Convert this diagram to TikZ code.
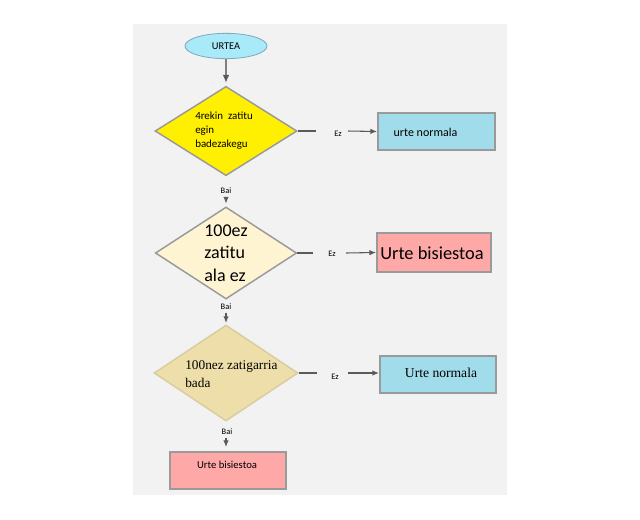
\documentclass[tikz,border=0pt]{standalone}
\usepackage{fontspec}
\setmainfont{Carlito}
\newfontfamily\serifx{Liberation Serif}
\usetikzlibrary{shapes.geometric,arrows.meta}
\definecolor{bg}{HTML}{F2F2F2}
\definecolor{ellfill}{HTML}{A8EAF8}
\definecolor{ellline}{HTML}{7EA9BE}
\definecolor{yel}{HTML}{FFEF00}
\definecolor{cream}{HTML}{FFF4D2}
\definecolor{khaki}{HTML}{EEDFAA}
\definecolor{bluebox}{HTML}{A0DCEA}
\definecolor{pinkbox}{HTML}{FFA8A8}
\definecolor{edge}{HTML}{9A9A9A}
\definecolor{conn}{HTML}{5A5A5A}
\begin{document}
\begin{tikzpicture}[x=0.75pt,y=-0.75pt,
  dia/.style={diamond,draw=edge,line width=1.1pt,inner sep=0pt},
  box/.style={rectangle,draw=edge,line width=1.4pt,inner sep=0pt},
  lbl/.style={font=\fontsize{6.3}{7}\selectfont,inner sep=1pt,fill=bg},
  conline/.style={draw=conn,line width=0.8pt},
  arr/.style={conline,-{Latex[length=5pt,width=4pt]}},
]
\useasboundingbox (0,0) rectangle (640,519);
\fill[bg] (133,24) rectangle (507,495);

% start
\node[ellipse,draw=ellline,fill=ellfill,line width=0.6pt,minimum width=61.5pt,minimum height=19pt,inner sep=0pt,font=\fontsize{7.8}{9}\selectfont] (start) at (226,46) {URTEA};

% diamonds
\node[dia,fill=yel,minimum width=106.5pt,minimum height=67pt] (d1) at (226,131) {};
\node[anchor=west,align=left,inner sep=0pt,font=\fontsize{8.2}{10.5}\selectfont] (t1) at (195,131) {4rekin\ \ zatitu\\egin\\badezakegu};

\node[dia,fill=cream,minimum width=106pt,minimum height=69pt] (d2) at (226,253) {};
\node[align=left,inner sep=0pt,font=\fontsize{13.5}{17}\selectfont] (t2) at (226,253) {100ez\\zatitu\\ala ez};

\node[dia,fill=khaki,draw=khaki!80!gray,minimum width=108pt,minimum height=72pt] (d3) at (226,373) {};
\node[anchor=west,align=left,inner sep=0pt,font=\serifx\fontsize{10}{13.5}\selectfont] (t3) at (185,374) {100nez zatigarria\\bada};

% boxes
\node[box,fill=bluebox,minimum width=87.75pt,minimum height=27.75pt] (b1) at (436.5,131.5) {};
\node[font=\fontsize{9}{11}\selectfont,inner sep=0pt] (bt1) at (425.5,132) {urte normala};

\node[box,fill=pinkbox,minimum width=85.5pt,minimum height=29.25pt] (b2) at (434,252.5) {};
\node[font=\fontsize{13.8}{16}\selectfont,inner sep=0pt] (bt2) at (432,253) {Urte bisiestoa};

\node[box,fill=bluebox,minimum width=87pt,minimum height=27.75pt] (b3) at (438,374.5) {};
\node[font=\serifx\fontsize{10.2}{12}\selectfont,inner sep=0pt] (bt3) at (441,373) {Urte normala};

\node[box,fill=pinkbox,minimum width=87pt,minimum height=27.75pt] (b4) at (228,470.5) {};
\node[font=\fontsize{8}{10}\selectfont,inner sep=0pt] (bt4) at (227,465) {Urte bisiestoa};

% start -> d1
\draw[draw=gray,line width=1.5pt,-{Latex[length=6pt,width=5pt,color=conn]},shorten >=2pt] (start.south) -- (d1.north);

% Bai connectors
\node[lbl,fill=none] (bai1) at (226,191) {Bai};
\draw[arr,shorten <=16pt,shorten >=2pt] (d1.south) -- (d2.north);
\node[lbl,fill=none] (bai2) at (226,307) {Bai};
\draw[arr,shorten <=10pt,shorten >=1pt] (d2.south) -- (d3.north);
\node[lbl,fill=none] (bai3) at (227,432) {Bai};
\draw[arr,shorten <=12.5pt,shorten >=3pt] (d3.south) -- (d3.south |- b4.north);

% Ez connectors
\node[lbl] (ez1) at (338,134) {Ez};
\coordinate (e1a) at (316,131);
\coordinate (e1b) at (348,131);
\draw[conline] (d1.east) -- (e1a);
\draw[arr] (e1b) -- (b1.west);

\node[lbl] (ez2) at (332,254) {Ez};
\coordinate (e2a) at (313,253);
\coordinate (e2b) at (346,253);
\draw[conline] (d2.east) -- (e2a);
\draw[arr] (e2b) -- (b2.west);

\node[lbl] (ez3) at (335,377) {Ez};
\coordinate (e3a) at (317,373);
\coordinate (e3b) at (348,373);
\draw[conline] (d3.east) -- (e3a);
\draw[arr] (e3b) -- (e3b -| b3.west);
\end{tikzpicture}
\end{document}
